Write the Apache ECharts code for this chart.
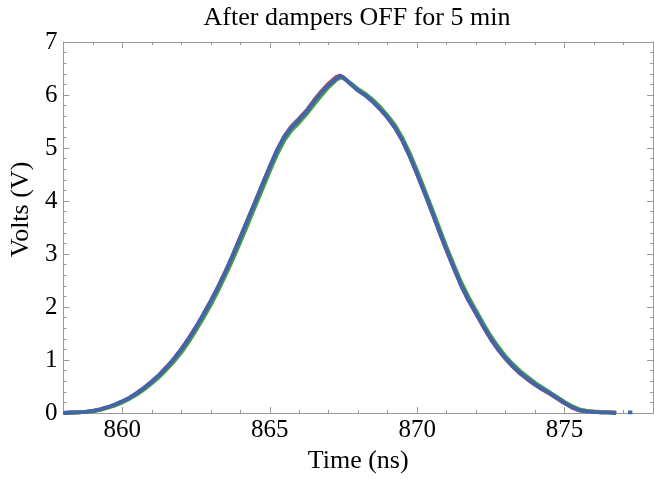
<!DOCTYPE html>
<html>
<head>
<meta charset="utf-8">
<script src="https://cdn.jsdelivr.net/npm/echarts@6/dist/echarts.min.js"></script>
<style>
  html, body { margin: 0; padding: 0; background: #fff; }
  #chart { width: 654px; height: 479px; }
</style>
</head>
<body>
<div id="chart"></div>
<script>
// time samples (ns)
const times = [858.00, 858.25, 858.50, 858.75, 859.00, 859.25, 859.50, 859.75,
  860.00, 860.25, 860.50, 860.75, 861.00, 861.25, 861.50, 861.75,
  862.00, 862.25, 862.50, 862.75, 863.00, 863.25, 863.50, 863.75,
  864.00, 864.25, 864.50, 864.75, 865.00, 865.25, 865.50, 865.75,
  866.00, 866.25, 866.50, 866.75, 867.00, 867.25, 867.375, 867.50, 867.75,
  868.00, 868.25, 868.50, 868.75, 869.00, 869.25, 869.50, 869.75,
  870.00, 870.25, 870.50, 870.75, 871.00, 871.25, 871.50, 871.75,
  872.00, 872.25, 872.50, 872.75, 873.00, 873.25, 873.50, 873.75,
  874.00, 874.25, 874.50, 874.75, 875.00, 875.25, 875.50, 875.75,
  876.00, 876.25, 876.50, 876.75, 877.00, 877.15, 877.30];

// volts, one list per trace
const redV = [0.00, 0.01, 0.01, 0.02, 0.04, 0.07, 0.11, 0.16,
  0.22, 0.29, 0.38, 0.48, 0.60, 0.72, 0.87, 1.03,
  1.21, 1.41, 1.63, 1.87, 2.12, 2.39, 2.68, 2.99,
  3.32, 3.65, 3.98, 4.32, 4.65, 4.97, 5.23, 5.42,
  5.56, 5.71, 5.90, 6.07, 6.22, 6.34, 6.37, 6.33, 6.21,
  6.09, 5.99, 5.87, 5.73, 5.57, 5.38, 5.14, 4.84,
  4.50, 4.15, 3.79, 3.42, 3.06, 2.72, 2.39, 2.11,
  1.87, 1.62, 1.39, 1.19, 1.02, 0.87, 0.74, 0.63,
  0.53, 0.44, 0.36, 0.27, 0.18, 0.10, 0.05, 0.03,
  0.02, 0.01, 0.01, 0.00, null, null, null];

const yellowV = [0.00, 0.01, 0.01, 0.02, 0.04, 0.07, 0.10, 0.15,
  0.21, 0.28, 0.37, 0.47, 0.58, 0.71, 0.85, 1.00,
  1.18, 1.38, 1.60, 1.84, 2.09, 2.36, 2.65, 2.96,
  3.28, 3.61, 3.95, 4.28, 4.61, 4.93, 5.20, 5.38,
  5.52, 5.67, 5.85, 6.02, 6.17, 6.29, 6.34, 6.32, 6.21,
  6.09, 6.00, 5.88, 5.74, 5.58, 5.40, 5.16, 4.86,
  4.53, 4.18, 3.82, 3.45, 3.09, 2.75, 2.42, 2.14,
  1.90, 1.65, 1.42, 1.22, 1.05, 0.90, 0.77, 0.66,
  0.55, 0.46, 0.38, 0.29, 0.20, 0.12, 0.06, 0.04,
  0.03, 0.02, 0.01, 0.01, null, null, null];

const greenV = [0.00, 0.00, 0.01, 0.02, 0.03, 0.06, 0.10, 0.14,
  0.20, 0.27, 0.35, 0.45, 0.56, 0.68, 0.82, 0.97,
  1.14, 1.34, 1.56, 1.79, 2.04, 2.31, 2.60, 2.90,
  3.22, 3.55, 3.89, 4.22, 4.56, 4.88, 5.15, 5.34,
  5.48, 5.64, 5.82, 5.99, 6.15, 6.28, 6.33, 6.32, 6.22,
  6.11, 6.02, 5.91, 5.77, 5.61, 5.43, 5.19, 4.90,
  4.57, 4.22, 3.86, 3.49, 3.13, 2.79, 2.46, 2.18,
  1.93, 1.68, 1.45, 1.25, 1.07, 0.92, 0.79, 0.68,
  0.57, 0.48, 0.39, 0.30, 0.21, 0.13, 0.07, 0.04,
  0.02, 0.01, 0.01, 0.00, null, null, null];

const blueV = [0.00, 0.01, 0.01, 0.02, 0.04, 0.07, 0.11, 0.16,
  0.22, 0.29, 0.38, 0.48, 0.59, 0.72, 0.86, 1.02,
  1.20, 1.40, 1.62, 1.86, 2.11, 2.38, 2.67, 2.98,
  3.31, 3.64, 3.97, 4.31, 4.64, 4.96, 5.22, 5.40,
  5.54, 5.69, 5.88, 6.05, 6.19, 6.31, 6.36, 6.33, 6.20,
  6.08, 5.99, 5.87, 5.73, 5.57, 5.38, 5.14, 4.84,
  4.51, 4.16, 3.80, 3.43, 3.07, 2.73, 2.40, 2.12,
  1.88, 1.63, 1.40, 1.20, 1.03, 0.88, 0.75, 0.64,
  0.54, 0.45, 0.37, 0.28, 0.19, 0.11, 0.05, 0.03,
  0.02, 0.01, 0.01, 0.00, null, 0.01, 0.01];

// tick positions
const xMajorTicks = [860, 865, 870, 875];
const xMinorTicks = [858, 859, 860, 861, 862, 863, 864, 865, 866, 867, 868,
  869, 870, 871, 872, 873, 874, 875, 876, 877, 878];

const serif = '"Liberation Serif", "DejaVu Serif", serif';
const frame = '#9a9a9a';

function pairs(vals) {
  return times.map((t, i) => [t, vals[i]]);
}

function xAxisOf(pos, major, withLabels) {
  return {
    type: 'value',
    position: pos,
    min: 858,
    max: 878,
    axisLine: { show: !major, lineStyle: { color: frame, width: 1 } },
    axisTick: {
      show: true,
      inside: true,
      length: major ? 6 : 3,
      customValues: major ? xMajorTicks : xMinorTicks,
      lineStyle: { color: frame }
    },
    axisLabel: withLabels
      ? { show: true, customValues: xMajorTicks, fontFamily: serif, fontSize: 25, color: '#000', margin: 5 }
      : { show: false },
    splitLine: { show: false }
  };
}

function yAxisOf(pos, withLabels) {
  return {
    type: 'value',
    position: pos,
    min: 0,
    max: 7,
    interval: 1,
    axisLine: { show: true, lineStyle: { color: frame, width: 1 } },
    axisTick: { show: true, inside: true, length: 6, lineStyle: { color: frame } },
    minorTick: { show: true, splitNumber: 5, length: 3, lineStyle: { color: frame } },
    axisLabel: withLabels
      ? { show: true, fontFamily: serif, fontSize: 25, color: '#000', margin: 6 }
      : { show: false },
    splitLine: { show: false }
  };
}

const chart = echarts.init(document.getElementById('chart'));

const bottomAxis = xAxisOf('bottom', false, true);
bottomAxis.name = 'Time (ns)';
bottomAxis.nameLocation = 'middle';
bottomAxis.nameGap = 34;
bottomAxis.nameTextStyle = { fontFamily: serif, fontSize: 26, color: '#000' };

const leftAxis = yAxisOf('left', true);
leftAxis.name = 'Volts (V)';
leftAxis.nameLocation = 'middle';
leftAxis.nameGap = 22;
leftAxis.nameTextStyle = { fontFamily: serif, fontSize: 26, color: '#000', padding: [0, 0, 0, 36] };

function line(name, vals, color) {
  return {
    name: name,
    type: 'line',
    xAxisIndex: 0,
    yAxisIndex: 0,
    data: pairs(vals),
    showSymbol: false,
    smooth: false,
    connectNulls: false,
    lineStyle: { color: color, width: 3.8 },
    itemStyle: { color: color },
    animation: false
  };
}

chart.setOption({
  animation: false,
  title: {
    text: 'After dampers OFF for 5 min',
    left: 352,
    top: 0,
    textAlign: 'center',
    textStyle: { fontFamily: serif, fontSize: 26, fontWeight: 'normal', color: '#000' }
  },
  grid: { left: 52, right: 1, top: 42, bottom: 66 },
  xAxis: [
    bottomAxis,
    xAxisOf('bottom', true, false),
    xAxisOf('top', false, false),
    xAxisOf('top', true, false)
  ],
  yAxis: [leftAxis, yAxisOf('right', false)],
  series: [
    line('red', redV, '#b4475f'),
    line('yellow', yellowV, '#c9a23e'),
    line('green', greenV, '#4a9e47'),
    line('blue', blueV, '#4264ab')
  ]
});
</script>
</body>
</html>
